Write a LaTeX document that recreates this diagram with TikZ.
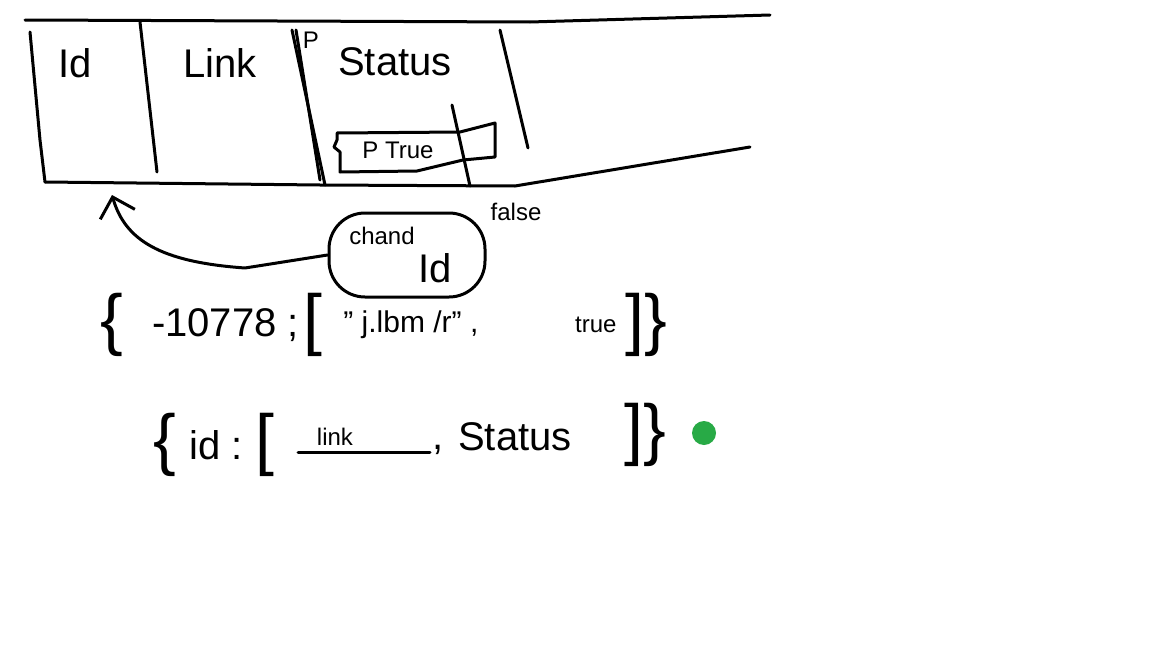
\documentclass[tikz,border=0pt]{standalone}
\usepackage{fontspec}
\setmainfont{Liberation Sans}
\usetikzlibrary{arrows.meta,positioning}
\definecolor{sketchDot}{RGB}{40,170,70}
\providecommand{\sketchInk}{black}
\providecommand{\sketchLineWidth}{1.5pt}
\tikzset{
  hand/.style={draw=\sketchInk, line width=\sketchLineWidth, line cap=round, line join=round},
  word/.style={inner sep=0pt, font=\fontsize{20}{22}\selectfont},
  midword/.style={inner sep=0pt, font=\fontsize{15}{17}\selectfont},
  smallword/.style={inner sep=0pt, font=\fontsize{12}{14}\selectfont},
  brace/.style={inner sep=0pt, font=\fontsize{34}{36}\selectfont}
}
\begin{document}
\begin{tikzpicture}[x=0.5pt, y=-0.5pt]
\useasboundingbox[fill=white] (0,0) rectangle (1152,648);
\begin{scope}[hand]
  % Table frame
  \draw (25,20) -- (530,22) -- (770,15);
  \draw (45,182) -- (320,185) -- (515,186) -- (750,147);
  % Column separators
  \draw (30,32) -- (40,140) -- (45,182);
  \draw (140,22) -- (157,172);
  \draw (292,30) -- (325,185);
  \draw (296,30) -- (320,180);
  \draw (500,30) -- (528,148);
  \draw (452,105) -- (470,186);
  % Flag box
  \draw (337,133) -- (460,132) -- (495,123) -- (495,157) -- (463,160)
        -- (417,171) -- (340,172) -- (340,152) -- (334,147) -- (337,140) -- cycle;
\end{scope}
% Header labels
\node[word] (hId) at (75,63) {Id};
\node[word] (hLink) at (220,63) {Link};
\node[smallword] (hP) at (311,40) {P};
\node[word] (hStatus) at (395,62) {Status};
\node[smallword] (flag) at (398,150) {P True};
% Changed id bubble
\node[word, draw=\sketchInk, line width=\sketchLineWidth, rounded corners=18pt,
      minimum width=78pt, minimum height=42pt] (bubble) at (407,255) {};
\node[smallword] (chand) at (382,236) {chand};
\node[word] (bubbleId) at (435,268) {Id};
\node[smallword] (false) at (516,212) {false};
\coordinate (idcell) at (112,195);
\draw[hand, -{Straight Barb[length=9pt, width=18pt]}] (bubble.west) -- (245,268)
  .. controls (160,262) and (125,240) .. (idcell);
% Sample record
\node[brace] (r1open) at (112,325) {\{};
\node[word, right=14pt of r1open.east, anchor=west] (r1key) {-10778 ;};
\node[brace, right=2pt of r1key] (r1list) {[};
\node[midword, right=10pt of r1list] (r1link) {" j.lbm /r" ,};
\node[smallword, right=48pt of r1link] (r1flag) {true};
\node[brace, right=4pt of r1flag] (r1close) {]\}};
% Schema record
\node[brace] (r2open) at (165,445) {\{};
\node[word, right=6pt of r2open] (r2key) {id :};
\node[brace, right=6pt of r2key] (r2list) {[};
\node[smallword] (r2link) at (335,437) {link};
\coordinate (r2lineA) at (298,452);
\coordinate (r2lineB) at (430,452);
\draw[hand] (r2lineA) -- (r2lineB);
\node[word, anchor=west] (r2comma) at (432,450) {,};
\node[word] (r2status) at (515,437) {Status};
\node[brace] (r2close) at (645,435) {]\}};
\fill[sketchDot] (704,433) circle (12);
\end{tikzpicture}
\end{document}
